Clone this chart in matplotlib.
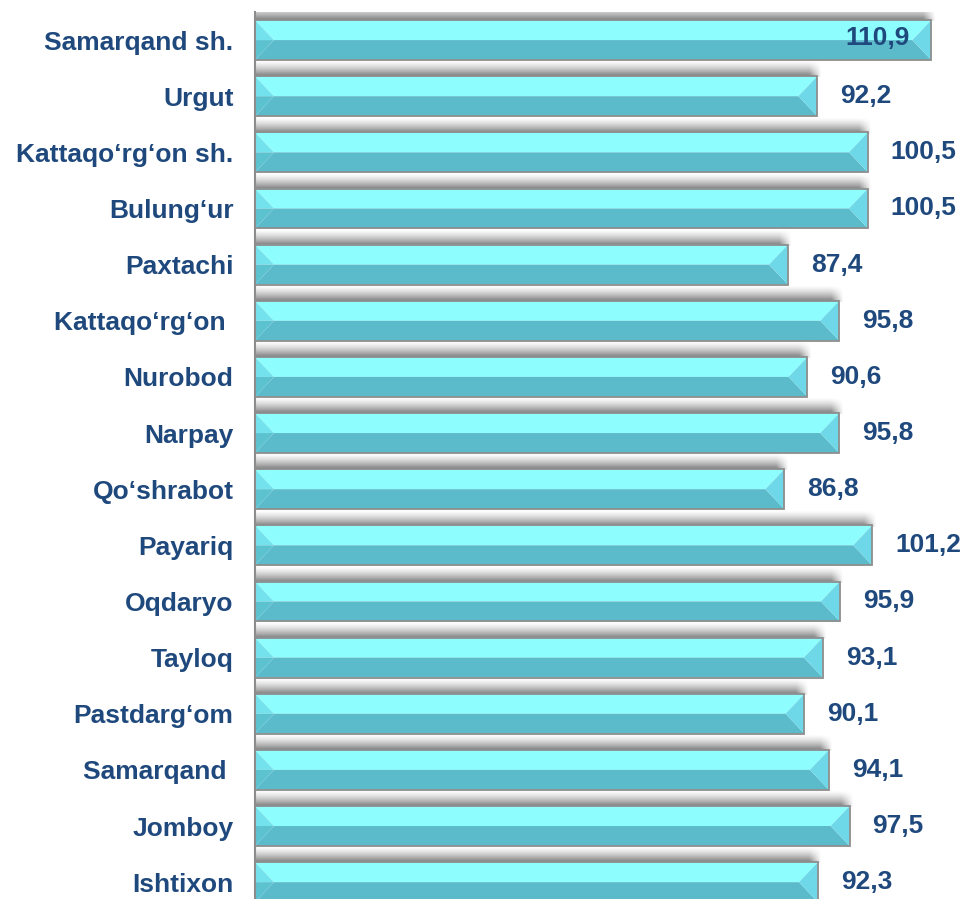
import numpy as np
import matplotlib
matplotlib.use("Agg")
import matplotlib.pyplot as plt
from matplotlib.patches import Polygon, Rectangle

plt.rcParams["font.family"] = ["Liberation Sans", "DejaVu Sans"]

districts = ["Samarqand sh.", "Urgut", "Kattaqo‘rg‘on sh.", "Bulung‘ur", "Paxtachi",
             "Kattaqo‘rg‘on ", "Nurobod", "Narpay", "Qo‘shrabot", "Payariq", "Oqdaryo",
             "Tayloq", "Pastdarg‘om", "Samarqand ", "Jomboy", "Ishtixon"]
values = [110.9, 92.2, 100.5, 100.5, 87.4, 95.8, 90.6, 95.8, 86.8, 101.2, 95.9,
          93.1, 90.1, 94.1, 97.5, 92.3]
value_labels = [f"{v:.1f}".replace(".", ",") for v in values]

W, H, DPI = 963, 899, 100
fig = plt.figure(figsize=(W / DPI, H / DPI), dpi=DPI)
ax_left_px, ax_top_px = 255, 12
ax = fig.add_axes([ax_left_px / W, 0, (W - ax_left_px) / W, (H - ax_top_px) / H])

XMAX = 116.1
YLIM = (15.30, -0.50)
ax.set_xlim(0, XMAX)
ax.set_ylim(*YLIM)

# pixel <-> data conversions
ppx = (W - ax_left_px) / XMAX                     # px per x unit
ppy = (H - ax_top_px) / (YLIM[0] - YLIM[1])       # px per y unit

bar_h = 0.71
bev_x = (bar_h * ppy / 2 - 1.0) / ppx             # bevel width in x units
shadow_h = 15 / ppy
shadow_ext = 4 / ppx

top_c = "#8DFDFD"
bot_c = "#5BBBCB"
right_c = "#6ED8E8"
left_top_c = "#74E2EC"
left_bot_c = "#5DC2D0"

ny, nx = 40, 400
for i, v in enumerate(values):
    y_top = i - bar_h / 2
    y_bot = i + bar_h / 2
    x1 = v
    # soft shadow above the bar
    sx1 = x1 + shadow_ext
    img = np.zeros((ny, nx, 4))
    ramp_y = np.linspace(0, 1, ny) ** 1.4 * 0.55
    xs = np.linspace(0, sx1, nx)
    fade_x = np.clip((sx1 - xs) / (3 * shadow_ext), 0, 1)
    img[..., 3] = ramp_y[:, None] * fade_x[None, :]
    ax.imshow(img, extent=[0, sx1, y_top + 0.02, y_top - shadow_h], aspect="auto",
              interpolation="bilinear", zorder=1)
    ym = i
    # bevel faces
    ax.add_patch(Polygon([(0, y_top), (x1, y_top), (x1 - bev_x, ym), (bev_x, ym)],
                         closed=True, facecolor=top_c, edgecolor="none", zorder=2))
    ax.add_patch(Polygon([(bev_x, ym), (x1 - bev_x, ym), (x1, y_bot), (0, y_bot)],
                         closed=True, facecolor=bot_c, edgecolor="none", zorder=2))
    ax.add_patch(Polygon([(x1, y_top), (x1 - bev_x, ym), (x1, y_bot)],
                         closed=True, facecolor=right_c, edgecolor="none", zorder=2))
    ax.add_patch(Polygon([(0, y_top), (bev_x, ym), (0, ym)],
                         closed=True, facecolor=left_top_c, edgecolor="none", zorder=2))
    ax.add_patch(Polygon([(0, ym), (bev_x, ym), (0, y_bot)],
                         closed=True, facecolor=left_bot_c, edgecolor="none", zorder=2))
    ax.add_patch(Rectangle((0, y_top), x1, bar_h, facecolor="none",
                           edgecolor="#8E8E8E", linewidth=1.3, zorder=3))

    # value label
    label_w_px = 66
    if ax_left_px + v * ppx + 22 + label_w_px > W:
        ax.annotate(value_labels[i], xy=(v, i), xytext=(-22, 2), textcoords="offset pixels",
                    ha="right", va="center", fontsize=19, fontweight="bold",
                    color="#1F497D", zorder=4)
    else:
        ax.annotate(value_labels[i], xy=(v, i), xytext=(23, 0), textcoords="offset pixels",
                    ha="left", va="center", fontsize=19, fontweight="bold",
                    color="#1F497D", zorder=4)

ax.set_xlim(0, XMAX)
ax.set_ylim(*YLIM)
ax.set_yticks(range(len(districts)))
ax.set_yticklabels(districts, fontsize=19, fontweight="bold", color="#1F497D")
ax.tick_params(axis="y", length=0, pad=15.5)
ax.set_xticks([])
for s in ["top", "right", "bottom"]:
    ax.spines[s].set_visible(False)
ax.spines["left"].set_color("#8C8C8C")
ax.spines["left"].set_linewidth(1.5)
ax.spines["left"].set_zorder(5)

fig.savefig("out.png", dpi=DPI)
